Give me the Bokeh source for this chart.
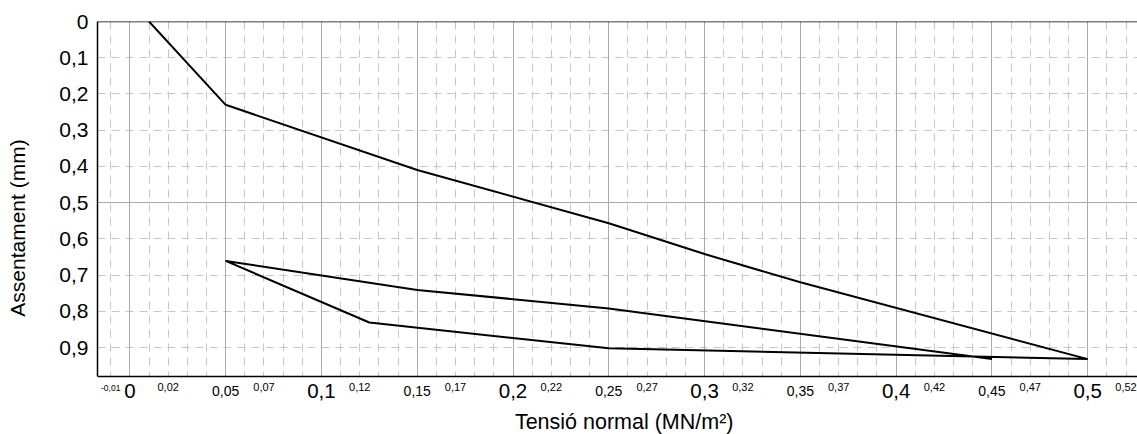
from bokeh.plotting import figure
from bokeh.models import (Range1d, FixedTicker, CustomJSTickFormatter, Grid,
                          BoxAnnotation, Span)
from bokeh.core.properties import value
from bokeh.embed import file_html
from bokeh.resources import INLINE

# ---- data ----
stress = [0.01, 0.05, 0.15, 0.25, 0.30, 0.35, 0.50, 0.25, 0.125, 0.05, 0.15, 0.25, 0.45]
settle = [0.0, 0.23, 0.41, 0.557, 0.642, 0.72, 0.932, 0.902, 0.831, 0.661, 0.741, 0.792, 0.932]

x_major_ticks = [0.0, 0.1, 0.2, 0.3, 0.4, 0.5]
x_mid_ticks = [0.05, 0.15, 0.25, 0.35, 0.45]
x_small_ticks = [0.02, 0.07, 0.12, 0.17, 0.22, 0.27, 0.32, 0.37, 0.42, 0.47, 0.52]
x_tiny_ticks = [-0.01]
y_ticks = [0.0, 0.1, 0.2, 0.3, 0.4, 0.5, 0.6, 0.7, 0.8, 0.9]
x_title = "Tensió normal (MN/m²)"
y_title = "Assentament (mm)"

FONT = "Liberation Sans"


def fmt2(v):
    return f"{v:.2f}".replace(".", ",")


def fmt1(v):
    s = f"{v:.1f}".replace(".", ",")
    return s[:-2] if s.endswith(",0") else s


W, H = 1137, 434
TOP, LEFT, PLOT_BOTTOM = 21, 97, 376
x_lo, x_hi = -0.0169, 0.526
y_bottom = 0.98
scale = (PLOT_BOTTOM - TOP) / y_bottom          # px per unit
y_full = (H - TOP) / scale                     # data value at canvas bottom


def py(pix, size):
    """wanted baseline pixel row -> data y (with renderer baseline correction)"""
    return (pix - 0.43 * size - TOP) / scale


p = figure(width=W, height=H, output_backend="svg", toolbar_location=None,
           x_range=Range1d(x_lo, x_hi), y_range=Range1d(y_full, 0.0),
           x_axis_location=None,
           min_border_left=LEFT, min_border_right=0, min_border_top=TOP, min_border_bottom=0)
p.background_fill_color = "white"
p.border_fill_color = "white"
p.outline_line_color = None

# grids
fine_x = [round(-0.01 + 0.01 * i, 2) for i in range(0, 55)]
p.xgrid.ticker = FixedTicker(ticks=fine_x)
p.xgrid.grid_line_color = "#c6c6c6"
p.xgrid.grid_line_dash = "8 6"
p.xgrid.grid_line_width = 1
p.ygrid.ticker = FixedTicker(ticks=y_ticks)
p.ygrid.grid_line_color = "#c6c6c6"
p.ygrid.grid_line_dash = "8 6"
p.ygrid.grid_line_width = 1
solid_x = [round(0.05 * i, 2) for i in range(0, 11)]
p.add_layout(Grid(dimension=0, ticker=FixedTicker(ticks=solid_x),
                  grid_line_color="#aaaaaa", grid_line_width=1))
p.add_layout(Grid(dimension=1, ticker=FixedTicker(ticks=[0.5]),
                  grid_line_color="#aaaaaa", grid_line_width=1))

# y axis
fmt_js = "return tick.toFixed(1).replace('.', ',').replace(/,0$/, '');"
ax = p.yaxis[0]
ax.bounds = (0.0, y_bottom)
ax.ticker = FixedTicker(ticks=y_ticks)
ax.formatter = CustomJSTickFormatter(code=fmt_js)
ax.major_tick_out = 0
ax.major_tick_in = 0
ax.minor_tick_out = 0
ax.minor_tick_in = 0
ax.axis_line_color = "black"
ax.axis_line_width = 1.5
ax.major_label_text_font = FONT
ax.major_label_text_color = "black"
ax.major_label_text_font_size = "21px"
ax.major_label_standoff = 9
ax.axis_label = y_title
ax.axis_label_text_font = FONT
ax.axis_label_text_font_style = "normal"
ax.axis_label_text_color = "black"
ax.axis_label_text_font_size = "21px"
ax.axis_label_standoff = 27

# white strip below the plotting area (covers grid lines)
p.add_layout(BoxAnnotation(top=y_bottom, bottom=y_full, fill_color="white", fill_alpha=1.0,
                           line_color=None, level="annotation"))
# frame lines
p.add_layout(Span(location=0.0, dimension="width", line_color="black", line_width=1.5,
                  level="overlay"))
p.add_layout(Span(location=y_bottom, dimension="width", line_color="black", line_width=1.5,
                  level="overlay"))

# data line
p.line(stress, settle, line_color="black", line_width=2)

# x tick labels (three sizes) and title
groups = [
    (x_major_ticks, fmt1, 20.5, 399.5),
    (x_mid_ticks, fmt2, 14, 396.7),
    (x_small_ticks, fmt2, 11, 391.7),
    (x_tiny_ticks, fmt2, 8.5, 390.7),
]
for ticks, f, size, base in groups:
    r = p.text(x=ticks, y=[py(base, size)] * len(ticks), text=[f(v) for v in ticks],
               text_font=value(FONT), text_font_size=value(f"{size}px"), text_color="black",
               text_align="center", text_baseline="alphabetic")
    r.level = "overlay"

r = p.text(x=[(x_lo + x_hi) / 2 + 0.0035], y=[py(430.5, 21.5)], text=[x_title],
           text_font=value(FONT), text_font_size=value("21.5px"), text_color="black",
           text_align="center", text_baseline="alphabetic")
r.level = "overlay"

open("out.html", "w").write(file_html(p, INLINE))
